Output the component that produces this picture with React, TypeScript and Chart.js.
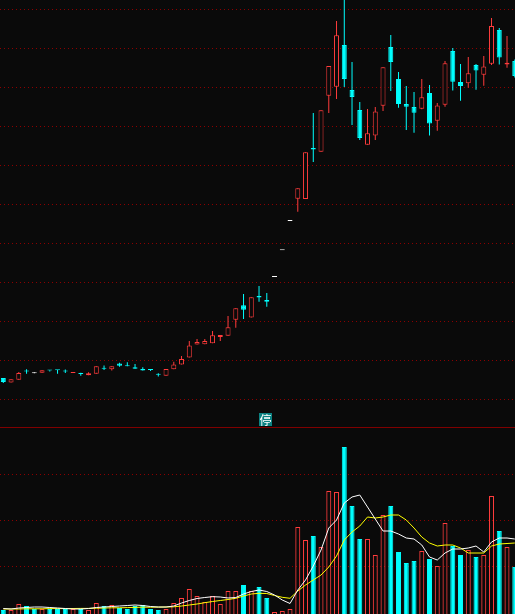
import React, { useEffect, useRef } from "react";
import { Chart, registerables } from "chart.js";

Chart.register(...registerables);

// ---------- colours ----------
const BG = "#0a0a0a";
const UP = "#ff3c3c";
const DOWN = "#00ffff";
const FLAT = "#ffffff";
const GRID = "#8c0000";
const SEP = "#800000";

// ---------- data (daily candles, 67 sessions) ----------
const opens = [
  6.85, 6.67, 6.78, 7.11, 7.03, 7.05, 7.14, 7.15, 7.11, 7.04,
  7.01, 6.95, 7.01, 7.21, 7.18, 7.40, 7.31, 7.26, 7.19, 7.16,
  6.98, 6.93, 7.18, 7.37, 7.63, 8.13, 8.14, 8.18, 8.42, 8.47,
  9.09, 9.64, 9.17, 10.00, 9.85, 10.73, 11.76, 12.88, 13.74, 13.73,
  15.69, 15.55, 17.70, 18.05, 19.65, 17.92, 17.15, 15.82, 16.17, 17.32,
  19.58, 18.35, 17.38, 17.27, 17.20, 17.81, 16.74, 17.36, 19.42, 18.23,
  18.18, 18.88, 18.51, 18.93, 20.23, 18.90, 19.04,
];
const highs = [
  6.85, 6.80, 7.08, 7.18, 7.07, 7.14, 7.14, 7.15, 7.17, 7.08,
  7.05, 7.07, 7.30, 7.33, 7.30, 7.43, 7.45, 7.38, 7.26, 7.19,
  7.03, 7.19, 7.47, 7.69, 8.27, 8.35, 8.35, 8.65, 8.50, 9.23,
  9.53, 10.08, 9.95, 10.38, 10.12, 10.73, 11.76, 12.88, 14.14, 15.53,
  17.04, 17.14, 18.85, 20.58, 21.60, 19.00, 17.46, 17.19, 17.27, 18.80,
  20.04, 18.62, 18.08, 17.85, 18.35, 18.12, 17.42, 19.04, 19.54, 18.92,
  19.19, 18.92, 19.23, 20.69, 20.31, 20.00, 19.10,
];
const lows = [
  6.65, 6.67, 6.78, 7.01, 7.03, 7.05, 7.10, 7.01, 7.04, 7.04,
  6.93, 6.95, 7.01, 7.15, 7.13, 7.28, 7.30, 7.20, 7.13, 7.12,
  6.90, 6.93, 7.18, 7.37, 7.63, 8.13, 8.14, 8.18, 8.27, 8.47,
  8.78, 9.12, 9.17, 9.78, 9.59, 10.73, 11.76, 12.88, 13.24, 13.73,
  15.15, 15.55, 17.04, 17.58, 18.04, 16.58, 16.00, 15.82, 16.00, 17.12,
  17.88, 17.24, 16.38, 16.28, 17.18, 16.17, 16.36, 17.28, 17.90, 17.51,
  18.01, 17.93, 18.09, 18.88, 18.90, 18.78, 18.40,
];
const closes = [
  6.69, 6.80, 7.04, 7.10, 7.03, 7.14, 7.13, 7.14, 7.10, 7.05,
  7.00, 7.03, 7.30, 7.20, 7.30, 7.32, 7.30, 7.20, 7.13, 7.15,
  6.97, 7.19, 7.37, 7.58, 8.10, 8.23, 8.27, 8.49, 8.50, 8.80,
  9.53, 9.47, 9.95, 9.94, 9.78, 10.73, 11.76, 12.88, 14.14, 15.53,
  15.63, 17.14, 18.85, 20.03, 18.35, 17.65, 16.08, 16.26, 17.10, 18.80,
  19.00, 17.38, 17.28, 17.05, 17.64, 16.63, 17.33, 18.95, 18.24, 18.08,
  18.57, 18.67, 18.83, 20.38, 19.17, 18.97, 18.46,
];

// volume (10k lots) and its moving averages
const volumes = [
  0.6, 0.6, 1.2, 1.0, 0.7, 0.7, 0.7, 0.7, 0.7, 0.7,
  0.7, 0.6, 1.3, 1.0, 1.1, 0.8, 0.7, 1.0, 1.1, 0.7,
  0.6, 0.7, 1.3, 1.8, 2.7, 2.0, 1.4, 2.0, 1.2, 2.5,
  2.5, 3.1, 2.5, 2.9, 1.8, 0.4, 0.5, 0.7, 8.9, 7.6,
  8.0, 6.9, 12.5, 12.4, 16.9, 11.0, 7.7, 7.7, 6.1, 10.1,
  11.0, 6.4, 5.3, 5.5, 6.5, 5.7, 5.0, 9.3, 7.0, 6.1,
  6.6, 5.9, 6.1, 12.0, 8.5, 6.9, 4.9,
];
const ma5 = [
  0.75, 0.7, 0.8, 0.85, 0.9, 0.9, 0.85, 0.8, 0.75, 0.7,
  0.7, 0.75, 0.85, 0.9, 0.95, 1.0, 1.05, 1.1, 1.05, 0.95,
  0.9, 0.9, 1.0, 1.3, 1.55, 1.75, 1.85, 1.93, 1.9, 1.8,
  1.85, 2.2, 2.45, 2.6, 2.45, 2.1, 1.6, 1.25, 2.6, 3.6,
  5.0, 6.6, 8.8, 9.6, 11.3, 11.9, 12.1, 10.9, 9.7, 8.5,
  8.5, 8.2, 7.8, 7.7, 7.1, 5.9, 5.6, 6.3, 6.7, 6.7,
  6.8, 7.0, 6.4, 7.4, 7.8, 7.8, 7.7,
];
const ma10 = [
  0.7, 0.7, 0.7, 0.72, 0.72, 0.72, 0.74, 0.74, 0.74, 0.75,
  0.76, 0.76, 0.78, 0.8, 0.82, 0.82, 0.84, 0.86, 0.88, 0.88,
  0.89, 0.9, 0.92, 1.0, 1.1, 1.2, 1.33, 1.45, 1.55, 1.65,
  1.77, 2.0, 2.2, 2.27, 2.25, 2.05, 1.87, 1.77, 2.5, 3.1,
  3.6, 4.1, 4.9, 6.0, 7.6, 8.4, 9.0, 9.9, 9.8, 9.9,
  10.1, 10.1, 9.6, 8.8, 7.9, 7.3, 7.0, 7.1, 7.1, 6.8,
  6.3, 6.3, 6.3, 7.0, 7.2, 7.25, 7.3,
];

// axis ranges and grid levels
const priceMin = 4.9615;
const priceMax = 21.3846;
const priceGrid = [6, 7.5, 9, 10.5, 12, 13.5, 15, 16.5, 18, 19.5, 21];
const volMin = 0.2;
const volMax = 18.9;
const volGrid = [5, 9.6, 14.2];
const xMin = -0.426;
const xMax = 66.03;

const idx = opens.map((_, i) => i);

const candleColor = (i: number) =>
  closes[i] > opens[i] ? UP : closes[i] < opens[i] ? DOWN : FLAT;

const volIsUp = (i: number) => {
  if (closes[i] !== opens[i]) return closes[i] > opens[i];
  return i > 0 ? closes[i] >= closes[i - 1] : true;
};

const hiddenY = (min: number, max: number, grid: number[]) => ({
  type: "linear" as const,
  min,
  max,
  display: true,
  ticks: { display: false },
  grid: { color: GRID, lineWidth: 1, drawTicks: false, tickLength: 0 },
  border: { display: false, dash: [1, 3] },
  afterBuildTicks: (axis: any) => {
    axis.ticks = grid.map((v) => ({ value: v }));
  },
});

const xScale = {
  type: "linear" as const,
  min: xMin,
  max: xMax,
  offset: false,
  bounds: "data" as const,
  display: false,
};

const baseOptions = {
  responsive: false,
  animation: false as const,
  devicePixelRatio: 1,
  events: [] as any[],
  layout: { padding: 0 },
  plugins: { legend: { display: false }, tooltip: { enabled: false } },
};

export default function App() {
  const priceRef = useRef<HTMLCanvasElement>(null);
  const volRef = useRef<HTMLCanvasElement>(null);

  useEffect(() => {
    document.body.style.margin = "0";
    document.body.style.background = BG;

    const priceChart = new Chart(priceRef.current as HTMLCanvasElement, {
      type: "bar",
      data: {
        datasets: [
          {
            label: "wick",
            data: idx.map((i) => ({ x: i, y: [lows[i], highs[i]] })) as any,
            backgroundColor: idx.map(candleColor),
            borderWidth: 0,
            grouped: false,
            maxBarThickness: 1,
            order: 2,
          },
          {
            label: "body",
            data: idx.map((i) => ({
              x: i,
              y: [Math.min(opens[i], closes[i]), Math.max(opens[i], closes[i])],
            })) as any,
            backgroundColor: idx.map((i) => (closes[i] > opens[i] ? BG : candleColor(i))),
            borderColor: idx.map(candleColor),
            borderWidth: 1,
            borderSkipped: false,
            grouped: false,
            maxBarThickness: 5,
            minBarLength: 1,
            order: 1,
          },
        ],
      },
      options: {
        ...baseOptions,
        scales: { x: xScale, y: hiddenY(priceMin, priceMax, priceGrid) },
      } as any,
    });

    const volChart = new Chart(volRef.current as HTMLCanvasElement, {
      type: "bar",
      data: {
        datasets: [
          {
            type: "line",
            label: "MA5",
            data: idx.map((i) => ({ x: i, y: ma5[i] })) as any,
            borderColor: "#ffffff",
            borderWidth: 1,
            pointRadius: 0,
            tension: 0,
            order: 0,
          } as any,
          {
            type: "line",
            label: "MA10",
            data: idx.map((i) => ({ x: i, y: ma10[i] })) as any,
            borderColor: "#ffff00",
            borderWidth: 1,
            pointRadius: 0,
            tension: 0,
            order: 0,
          } as any,
          {
            type: "bar",
            label: "VOL",
            data: idx.map((i) => ({ x: i, y: volumes[i] })) as any,
            backgroundColor: idx.map((i) => (volIsUp(i) ? "rgba(0,0,0,0)" : DOWN)),
            borderColor: idx.map((i) => (volIsUp(i) ? UP : DOWN)),
            borderWidth: 1,
            borderSkipped: false,
            grouped: false,
            maxBarThickness: 5,
            order: 1,
          },
        ],
      },
      options: {
        ...baseOptions,
        scales: { x: xScale, y: hiddenY(volMin, volMax, volGrid) },
      } as any,
    });

    return () => {
      priceChart.destroy();
      volChart.destroy();
    };
  }, []);

  return (
    <div
      style={{
        position: "fixed",
        left: 0,
        top: 0,
        width: 515,
        height: 614,
        background: BG,
        overflow: "hidden",
      }}
    >
      <canvas
        ref={priceRef}
        width={515}
        height={427}
        style={{ position: "absolute", left: 0, top: 0, width: 515, height: 427 }}
      />
      <canvas
        ref={volRef}
        width={515}
        height={187}
        style={{ position: "absolute", left: 0, top: 427, width: 515, height: 187 }}
      />
      <div
        style={{
          position: "absolute",
          left: 0,
          top: 427,
          width: 515,
          height: 1,
          background: SEP,
        }}
      />
      <div
        style={{
          position: "absolute",
          left: 259,
          top: 413,
          width: 13,
          height: 13,
          background: "#0c8282",
          color: "#ffffff",
          fontSize: 12,
          lineHeight: "13px",
          textAlign: "center",
          fontFamily: '"Noto Sans CJK SC", sans-serif',
        }}
      >
        停
      </div>
    </div>
  );
}
